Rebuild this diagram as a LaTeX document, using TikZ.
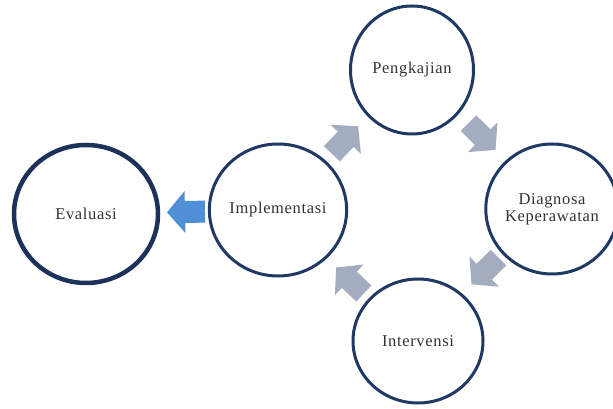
\documentclass[tikz,border=0pt]{standalone}
\usepackage{fontspec}
\setmainfont{Liberation Serif}[LetterSpace=4]
\usetikzlibrary{shapes.geometric,calc}
\definecolor{navy}{HTML}{1F3864}
\definecolor{arrgray}{HTML}{A4ACBF}
\definecolor{arrblue}{HTML}{4F8FD6}
\tikzset{
  stage/.style={ellipse, draw=navy, line width=3pt, inner sep=0pt, align=center,
    font=\fontsize{16.5}{17}\selectfont, text=black!80},
  pics/blockarr/.style={code={
    \fill[#1] (19,0) -- (1,21) -- (1,11) -- (-19,11) -- (-19,-11) -- (1,-11) -- (1,-21) -- cycle;
  }}
}
\begin{document}
\begin{tikzpicture}[x=1pt,y=1pt]
\useasboundingbox[fill=white] (0,0) rectangle (613,409);
\node[stage, minimum width=123pt, minimum height=128pt] (peng) at (412,339) {Pengkajian};
\node[stage, minimum width=126pt, minimum height=130pt] (diag) at (552,200) {Diagnosa\\Keperawatan};
\node[stage, minimum width=130pt, minimum height=124pt] (interv) at (418,68) {Intervensi};
\node[stage, minimum width=130pt, minimum height=132pt] (impl) at (278,199) {Implementasi};
\node[stage, line width=4.5pt, draw=navy!90!black, minimum width=144pt, minimum height=138pt] (eval) at (86,195) {Evaluasi};
\path let \p1=($(peng)-(impl)$), \n1={atan2(\y1,\x1)} in
  pic[rotate=\n1] at ($(impl)!0.5!(peng)$) {blockarr={arrgray}};
\path let \p1=($(diag)-(peng)$), \n1={atan2(\y1,\x1)} in
  pic[rotate=\n1] at ($(peng)!0.5!(diag)+(0,3)$) {blockarr={arrgray}};
\path let \p1=($(interv)-(diag)$), \n1={atan2(\y1,\x1)} in
  pic[rotate=\n1] at ($(diag)!0.5!(interv)+(0,4)$) {blockarr={arrgray}};
\path let \p1=($(impl)-(interv)$), \n1={atan2(\y1,\x1)} in
  pic[rotate=\n1] at ($(interv)!0.5!(impl)+(2,-5)$) {blockarr={arrgray}};
\path let \p1=($(eval)-(impl)$), \n1={atan2(\y1,\x1)} in
  pic[rotate=\n1] at ($(impl)!0.5!(eval)+(4,0)$) {blockarr={arrblue}};
\end{tikzpicture}
\end{document}
